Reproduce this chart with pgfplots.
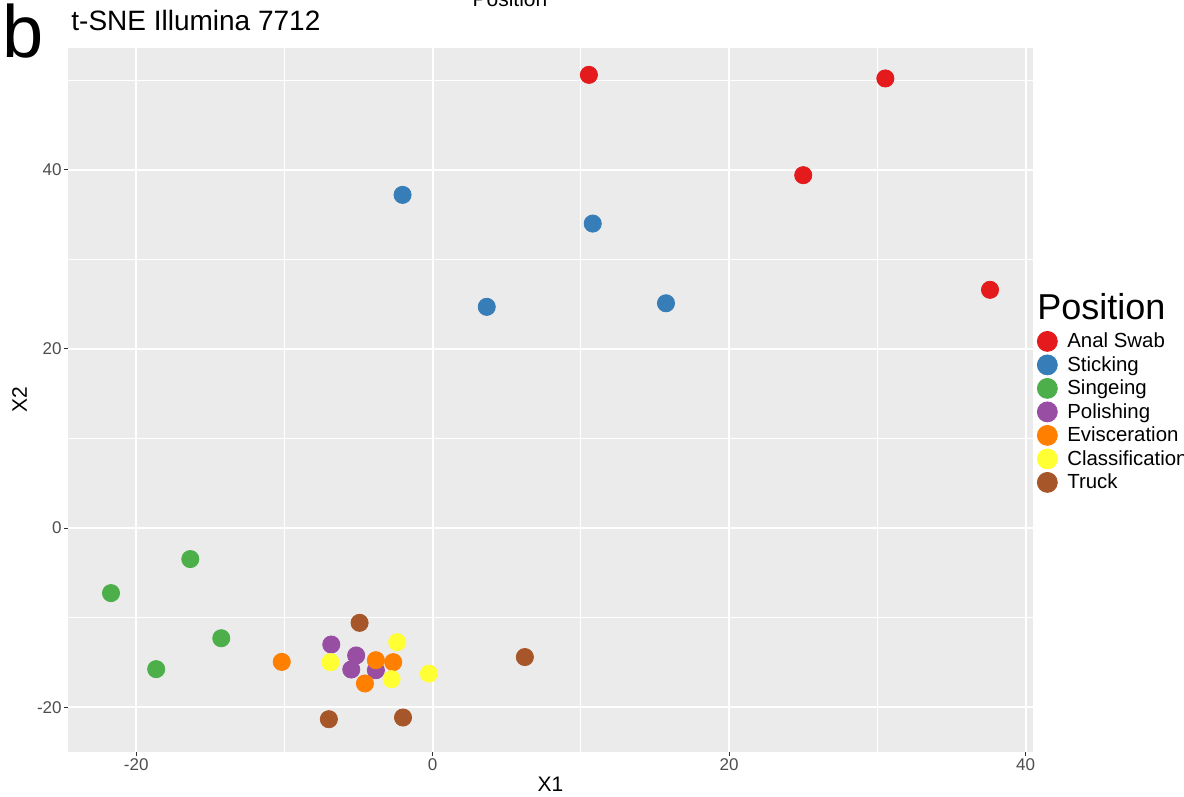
\documentclass[border=0pt]{standalone}
\usepackage{pgfplots}
\pgfplotsset{compat=1.18}
\usepackage{fontspec}
\setmainfont{Liberation Sans}
\definecolor{cRed}{HTML}{E41A1C}
\definecolor{cBlue}{HTML}{377EB8}
\definecolor{cGreen}{HTML}{4DAF4A}
\definecolor{cPurple}{HTML}{984EA3}
\definecolor{cOrange}{HTML}{FF7F00}
\definecolor{cYellow}{HTML}{FFFF33}
\definecolor{cBrown}{HTML}{A65628}
\definecolor{panel}{HTML}{EBEBEB}
\definecolor{ticklab}{HTML}{4D4D4D}
\definecolor{tickc}{HTML}{333333}
\pgfplotsset{pt/.style={only marks, mark=*, mark size=4.3pt, mark options={fill=#1, draw=#1, line width=0.4pt}}}
\begin{document}
\begin{tikzpicture}
\begin{axis}[
 scale only axis, width=482.5pt, height=352pt,
 xmin=-24.6, xmax=40.5, ymin=-25.0, ymax=53.6,
 axis background/.style={fill=panel},
 axis line style={draw=none},
 xtick={-20,0,20,40}, ytick={-20,0,20,40},
 minor xtick={-10,10,30}, minor ytick={-10,10,30,50},
 xtick pos=lower, ytick pos=left,
 grid=both,
 major grid style={white, line width=1pt},
 minor grid style={white, line width=0.5pt},
 tick align=outside, major tick length=2pt, minor tick length=0pt,
 tick style={tickc, line width=0.5pt},
 every tick label/.append style={font=\fontsize{8.5}{10}\selectfont, text=ticklab},
 xticklabel style={inner sep=1pt},
 yticklabel style={inner sep=1pt},
 /pgf/number format/assume math mode=true,
 xlabel={X1}, ylabel={X2},
 label style={font=\fontsize{10.5}{12}\selectfont},
 xlabel style={at={(rel axis cs:0.5,-0.0568)}, anchor=base},
 ylabel style={at={(rel axis cs:-0.0425,0.5)}, anchor=base},
 legend cell align=left,
 legend style={at={(rel axis cs:1.0041,0.598)}, anchor=north west, draw=none, fill=none, inner sep=0pt,
   row sep=1pt, font=\fontsize{10.2}{12}\selectfont,
   nodes={inner sep=0pt, text height=7.5pt, text depth=2.5pt},
   /tikz/every odd column/.append style={column sep=5pt}},
 legend image code/.code={\draw[#1,mark size=5pt] plot coordinates {(5pt,0.75pt)};},
]
\addplot[pt=cRed] coordinates {(10.54,50.6) (30.54,50.2) (25.0,39.4) (37.6,26.6)};
\addlegendentry{Anal Swab}
\addplot[pt=cBlue] coordinates {(-2.03,37.2) (10.8,34.0) (3.65,24.7) (15.74,25.1)};
\addlegendentry{Sticking}
\addplot[pt=cGreen] coordinates {(-21.7,-7.26) (-16.35,-3.46) (-14.26,-12.3) (-18.65,-15.75)};
\addlegendentry{Singeing}
\addplot[pt=cPurple] coordinates {(-6.84,-13.0) (-5.16,-14.22) (-5.49,-15.79) (-3.83,-15.87)};
\addlegendentry{Polishing}
\addplot[pt=cOrange] coordinates {(-10.18,-14.94) (-3.83,-14.75) (-2.66,-14.97) (-4.57,-17.35)};
\addlegendentry{Evisceration}
\addplot[pt=cYellow] coordinates {(-2.39,-12.74) (-6.89,-14.97) (-0.25,-16.25) (-2.77,-16.87)};
\addlegendentry{Classification}
\addplot[pt=cBrown] coordinates {(-4.93,-10.58) (-7.0,-21.34) (-2.0,-21.15) (6.22,-14.4)};
\addlegendentry{Truck}
\end{axis}
\pgfresetboundingbox
\begin{scope}[shift={(current axis.south west)}, xshift=-34pt, yshift=376pt, x=0.5pt, y=-0.5pt]
\path[use as bounding box] (0,0) rectangle (1184,797);
\node[anchor=base west, inner sep=0pt, font=\fontsize{37}{42}\selectfont] at (2,58) {b};
\node[anchor=base west, inner sep=0pt, font=\fontsize{14}{16}\selectfont] at (71,31) {t-SNE Illumina 7712};
\node[anchor=base, inner sep=0pt, font=\fontsize{10.5}{12}\selectfont] at (510,7) {Position};
\node[anchor=base west, inner sep=0pt, font=\fontsize{18}{21}\selectfont] at (1037,320) {Position};
\end{scope}
\end{tikzpicture}
\end{document}
